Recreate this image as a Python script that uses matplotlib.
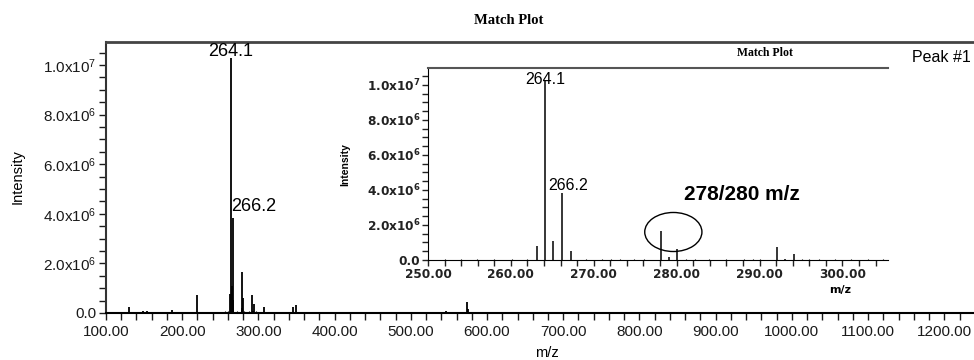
import numpy as np
import matplotlib.pyplot as plt
from matplotlib.patches import Ellipse
from matplotlib.ticker import MultipleLocator, FuncFormatter

plt.rcParams['font.family'] = ['Liberation Sans', 'DejaVu Sans']
plt.rcParams['mathtext.fontset'] = 'dejavusans'

# peaks of the spectrum (m/z, intensity)
peak_mz = [129.9, 148.0, 154.0, 187.0, 219.3, 263.1, 264.1, 265.1, 266.2, 267.2,
           278.1, 279.1, 280.1, 292.1, 293.1, 294.1, 307.8, 345.7, 349.0, 545.8,
           573.7, 575.5]
peak_int = [2.5e5, 7e4, 8e4, 1.2e5, 7.3e5, 7.8e5, 1.03e7, 1.1e6, 3.83e6, 5.4e5,
            1.64e6, 1.9e5, 6.0e5, 7.4e5, 8e4, 3.6e5, 2.5e5, 2.6e5, 3.2e5, 8e4,
            4.5e5, 1.5e5]

# small background peaks
noise_mz = [104, 111, 117, 122, 135, 141, 157, 163, 170, 176, 182, 195, 199, 205,
            211, 226, 232, 238, 244, 252.1, 254.0, 255.9, 258.0, 260.1, 261.9,
            269.1, 271.0, 272.1, 273.2, 274.9, 276.1, 281.1, 282.2, 283.9, 286.0,
            288.1, 289.2, 290.1, 295.1, 296.0, 297.2, 299.1, 301.0, 303.1, 304.9,
            312, 318, 325, 331, 338, 356, 362, 371, 378, 386, 393, 401, 410, 418,
            427, 435, 444, 452, 461, 469, 478, 486, 495, 503, 512, 520, 529, 537,
            553, 561, 567, 584, 592, 601, 609, 618, 626, 635, 643, 652, 660, 669,
            677, 686, 694, 703, 711, 720, 728, 737, 745, 754, 762, 771, 779, 788,
            796, 805, 813, 822, 830, 839, 847, 856, 864, 873, 881, 890, 898, 907,
            915, 924, 932, 941, 949, 958, 966, 975, 983, 992, 1001, 1009, 1018,
            1026, 1035, 1043, 1052, 1060, 1069, 1077, 1086, 1094, 1103, 1111,
            1120, 1128, 1137, 1145, 1154, 1162, 1171, 1179, 1188, 1196, 1205,
            1213, 1222, 1230]
noise_int = [4e4, 3e4, 6e4, 3e4, 5e4, 6e4, 4e4, 3e4, 5e4, 3e4, 4e4, 3e4, 5e4, 4e4,
             3e4, 6e4, 4e4, 3e4, 5e4, 6e4, 4e4, 7e4, 5e4, 8e4, 4e4,
             6e4, 5e4, 7e4, 4e4, 6e4, 5e4, 7e4, 4e4, 6e4, 5e4,
             7e4, 4e4, 6e4, 5e4, 4e4, 7e4, 5e4, 4e4, 6e4, 5e4,
             4e4, 5e4, 3e4, 4e4, 5e4, 4e4, 3e4, 4e4, 5e4, 3e4, 4e4, 3e4, 5e4, 4e4,
             3e4, 4e4, 5e4, 3e4, 4e4, 3e4, 5e4, 4e4, 3e4, 4e4, 3e4, 5e4, 4e4, 3e4,
             4e4, 3e4, 5e4, 4e4, 3e4, 4e4, 5e4, 3e4, 4e4, 3e4, 5e4, 4e4, 3e4, 4e4,
             5e4, 3e4, 4e4, 3e4, 5e4, 4e4, 3e4, 4e4, 5e4, 3e4, 4e4, 3e4, 5e4, 4e4,
             3e4, 4e4, 5e4, 3e4, 4e4, 3e4, 5e4, 4e4, 3e4, 4e4, 5e4, 3e4, 4e4, 3e4,
             5e4, 4e4, 3e4, 4e4, 5e4, 3e4, 4e4, 3e4, 5e4, 4e4, 3e4, 4e4, 5e4, 3e4,
             4e4, 3e4, 5e4, 4e4, 3e4, 4e4, 5e4, 3e4, 4e4, 3e4, 5e4, 4e4,
             3e4, 4e4, 5e4, 3e4, 4e4, 3e4, 5e4, 4e4, 3e4, 4e4, 5e4,
             3e4]

label_mz = [264.1, 266.2]


def sci_fmt(v, pos):
    if v <= 0:
        return '0.0'
    e = int(np.floor(np.log10(v) + 1e-9))
    return r'$\mathregular{%.1fx10^{%d}}$' % (v / 10**e, e)


W, H = 974, 360
fig = plt.figure(figsize=(W / 100, H / 100), dpi=100)

# main spectrum
ax = fig.add_axes([106 / W, 1 - 313 / H, 1 - 106 / W, (313 - 42) / H])
ax.vlines(noise_mz, 0, noise_int, color='black', lw=0.8)
ax.vlines(peak_mz, 0, peak_int, color='black', lw=1.3)
ax.set_xlim(100, 1239)
ax.set_ylim(0, 1.093e7)
ax.xaxis.set_major_locator(MultipleLocator(100))
ax.xaxis.set_minor_locator(MultipleLocator(20))
ax.xaxis.set_major_formatter(FuncFormatter(lambda v, p: '%.2f' % v))
ax.yaxis.set_major_locator(MultipleLocator(2e6))
ax.yaxis.set_minor_locator(MultipleLocator(5e5))
ax.yaxis.set_major_formatter(FuncFormatter(sci_fmt))
ax.tick_params(which='both', direction='out', length=5, width=1, labelsize=11,
               colors='#1a1a1a', pad=2)
ax.tick_params(axis='x', pad=3.5)
ax.spines['right'].set_visible(False)
ax.spines['top'].set_color('#444444')
ax.spines['top'].set_linewidth(2)
ax.spines['left'].set_color('#333333')
ax.spines['left'].set_linewidth(1.5)
ax.spines['bottom'].set_linewidth(1.5)

for mz in label_mz:
    h = peak_int[peak_mz.index(mz)]
    if mz == 264.1:
        ax.annotate('%.1f' % mz, (mz, h), xytext=(0, -2), textcoords='offset points',
                    ha='center', va='bottom', fontsize=13)
    else:
        ax.annotate('%.1f' % mz, (mz, h), xytext=(-1, 2), textcoords='offset points',
                    ha='left', va='bottom', fontsize=13)

# zoomed view 250-305
axin = fig.add_axes([428 / W, 1 - 260 / H, (888 - 428) / W, (260 - 68) / H])
axin.set_facecolor('white')
axin.vlines(noise_mz, 0, noise_int, color='black', lw=0.8)
axin.vlines(peak_mz, 0, peak_int, color='black', lw=1.1)
axin.set_xlim(250, 305.5)
axin.set_ylim(0, 1.097e7)
axin.xaxis.set_major_locator(MultipleLocator(10))
axin.xaxis.set_minor_locator(MultipleLocator(2))
axin.xaxis.set_major_formatter(FuncFormatter(lambda v, p: '%.2f' % v))
axin.yaxis.set_major_locator(MultipleLocator(2e6))
axin.yaxis.set_minor_locator(MultipleLocator(5e5))
axin.yaxis.set_major_formatter(FuncFormatter(sci_fmt))
axin.tick_params(which='both', direction='out', length=4, width=1, labelsize=8.7,
                 colors='#222222', pad=1.5)
for lab in axin.get_xticklabels() + axin.get_yticklabels():
    lab.set_family('DejaVu Sans')
    lab.set_weight('bold')
axin.spines['right'].set_visible(False)
axin.spines['top'].set_color('#555555')
axin.spines['top'].set_linewidth(1.5)

for mz in label_mz:
    h = peak_int[peak_mz.index(mz)]
    if mz == 264.1:
        axin.annotate('%.1f' % mz, (mz, h), xytext=(0, -5), textcoords='offset points',
                      ha='center', va='bottom', fontsize=11.5)
    else:
        axin.annotate('%.1f' % mz, (mz, h), xytext=(4, 0), textcoords='offset points',
                      ha='center', va='bottom', fontsize=11.5)

axin.add_patch(Ellipse((279.6, 1.6e6), 6.9, 2.23e6, fill=False, lw=1, ec='black'))

# titles and labels
fig.text(509 / W, 1 - 20 / H, 'Match Plot', family='Liberation Serif', weight='bold',
         fontsize=10.5, ha='center', va='center')
fig.text(765 / W, 1 - 53 / H, 'Match Plot', family='Liberation Serif', weight='bold',
         fontsize=8.5, ha='center', va='center')
fig.text(912 / W, 1 - 57 / H, 'Peak #1', fontsize=11.5, ha='left', va='center')
fig.text(18 / W, 1 - 177 / H, 'Intensity', fontsize=10.5,
         rotation=90, ha='center', va='center')
fig.text(547 / W, 1 - 353 / H, 'm/z', fontsize=10.5, ha='center', va='center')
fig.text(345 / W, 1 - 165 / H, 'Intensity', fontsize=7.5,
         weight='bold', rotation=90, ha='center', va='center')
fig.text(840 / W, 1 - 290 / H, 'm/z', family='DejaVu Sans', weight='bold', fontsize=8,
         ha='center', va='center')
fig.text(684 / W, 1 - 195 / H, '278/280 m/z', weight='bold',
         fontsize=15, ha='left', va='center')

fig.savefig('out.png', dpi=100)
